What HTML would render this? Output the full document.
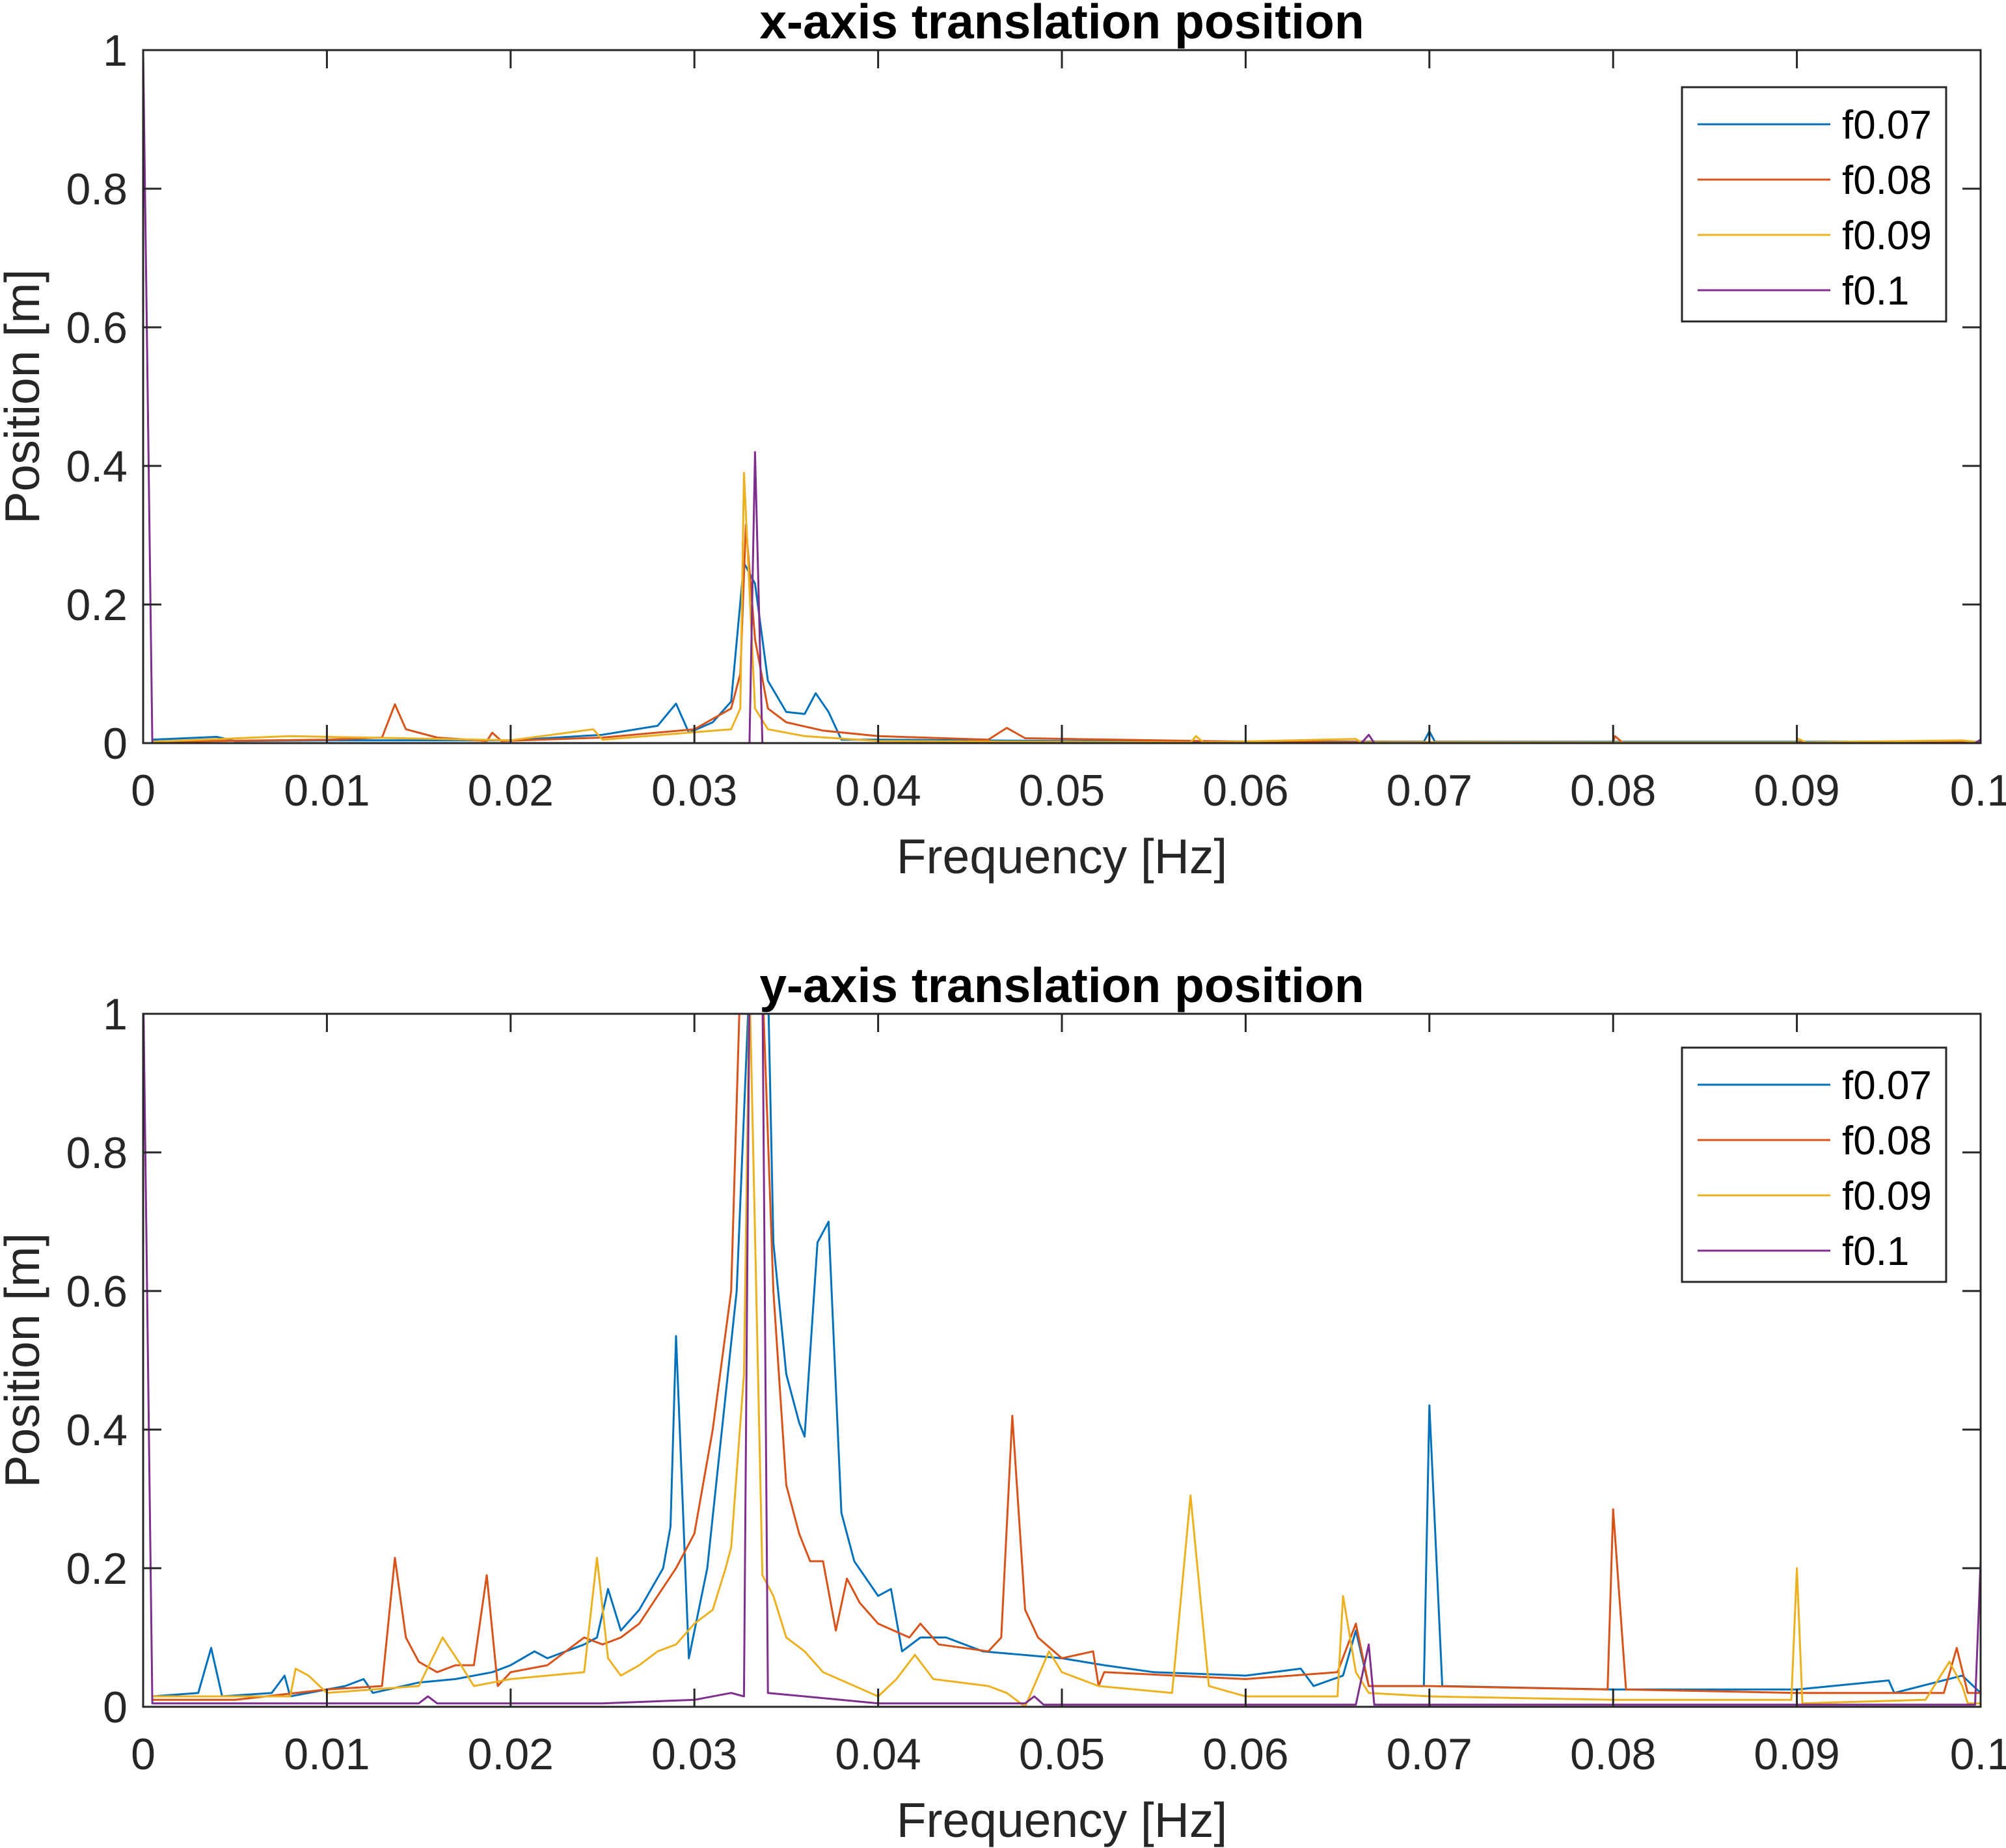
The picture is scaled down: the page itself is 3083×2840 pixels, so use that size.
<!DOCTYPE html>
<html><head><meta charset="utf-8"><style>
html,body{margin:0;padding:0;background:#fff;}
svg{display:block;font-family:"Liberation Sans",Arial,sans-serif;}
</style></head><body>
<svg id="chart" width="3083" height="2840" viewBox="0 0 3083 2840" xmlns="http://www.w3.org/2000/svg"></svg>
<script>
const xTicks=[0,0.01,0.02,0.03,0.04,0.05,0.06,0.07,0.08,0.09,0.1];
const xTickLabels=["0","0.01","0.02","0.03","0.04","0.05","0.06","0.07","0.08","0.09","0.1"];
const yTicks=[0,0.2,0.4,0.6,0.8,1];
const yTickLabels=["0","0.2","0.4","0.6","0.8","1"];
const seriesNames=["f0.07","f0.08","f0.09","f0.1"];
const seriesColors=["#0072BD","#D95319","#EDB120","#7E2F8E"];

// Top plot (x-axis)
const xf07=[0.0005,0.004,0.005,0.01,0.02,0.025,0.028,0.029,0.0297,0.031,0.032,0.0327,0.0333,0.034,0.035,0.036,0.0366,0.0373,0.038,0.04,0.05,0.0697,0.07,0.0703,0.1];
const xv07=[0.005,0.009,0.003,0.004,0.004,0.012,0.025,0.057,0.015,0.03,0.06,0.26,0.23,0.09,0.045,0.042,0.072,0.045,0.005,0.005,0.003,0.002,0.017,0.002,0.002];
const xf08=[0.0005,0.01,0.013,0.0137,0.0143,0.016,0.0187,0.019,0.0195,0.025,0.03,0.032,0.0325,0.0328,0.0333,0.034,0.035,0.037,0.04,0.046,0.047,0.048,0.06,0.08,0.0801,0.0805,0.1];
const xv08=[0.002,0.005,0.008,0.056,0.02,0.008,0.003,0.015,0.003,0.008,0.02,0.05,0.1,0.315,0.15,0.05,0.03,0.018,0.01,0.005,0.022,0.007,0.002,0.001,0.01,0.001,0.001];
const xf09=[0.0005,0.008,0.02,0.0245,0.025,0.032,0.0325,0.0327,0.0333,0.034,0.036,0.04,0.057,0.0573,0.0577,0.066,0.0663,0.09,0.0901,0.0905,0.099,0.1];
const xv09=[0.002,0.01,0.004,0.02,0.005,0.02,0.05,0.39,0.05,0.02,0.01,0.003,0.001,0.01,0.001,0.006,0.001,0.001,0.006,0.001,0.004,0.001];
const xf10=[0,0.0005,0.033,0.0333,0.0337,0.0663,0.0667,0.067,0.0997,0.1];
const xv10=[1.0,0.0,0.0,0.42,0.0,0.0,0.012,0.0,0.0,0.005];

// Bottom plot (y-axis)
const yf07=[0.0005,0.003,0.0037,0.0043,0.007,0.0077,0.008,0.011,0.012,0.0125,0.015,0.017,0.019,0.02,0.0213,0.022,0.024,0.0247,0.0253,0.026,0.027,0.0283,0.0287,0.029,0.0297,0.0307,0.0313,0.0323,0.033,0.034,0.0343,0.035,0.0357,0.036,0.0367,0.0373,0.038,0.0387,0.04,0.0407,0.0413,0.0423,0.0437,0.0457,0.05,0.0523,0.055,0.06,0.063,0.0637,0.0653,0.066,0.0667,0.0697,0.07,0.0707,0.08,0.09,0.095,0.0953,0.099,0.1];
const yv07=[0.015,0.02,0.085,0.015,0.02,0.045,0.015,0.03,0.04,0.02,0.035,0.04,0.05,0.06,0.08,0.07,0.09,0.1,0.17,0.11,0.14,0.2,0.26,0.535,0.07,0.2,0.35,0.6,1.05,1.05,0.67,0.48,0.41,0.39,0.67,0.7,0.28,0.21,0.16,0.17,0.08,0.1,0.1,0.08,0.07,0.06,0.05,0.045,0.055,0.03,0.045,0.11,0.03,0.03,0.435,0.03,0.025,0.025,0.038,0.02,0.045,0.02];
const yf08=[0.0005,0.005,0.01,0.013,0.0137,0.0143,0.015,0.016,0.017,0.018,0.0187,0.0193,0.02,0.022,0.024,0.025,0.026,0.027,0.028,0.029,0.03,0.031,0.032,0.0325,0.0337,0.0343,0.035,0.0357,0.0363,0.037,0.0377,0.0383,0.039,0.04,0.0417,0.0423,0.0433,0.046,0.0467,0.0473,0.048,0.0487,0.05,0.0517,0.052,0.0523,0.06,0.065,0.066,0.0667,0.07,0.0797,0.08,0.0807,0.09,0.098,0.0987,0.0993,0.1];
const yv08=[0.01,0.01,0.025,0.03,0.215,0.1,0.065,0.05,0.06,0.06,0.19,0.03,0.05,0.06,0.1,0.09,0.1,0.12,0.16,0.2,0.25,0.4,0.6,1.05,1.05,0.6,0.32,0.25,0.21,0.21,0.11,0.185,0.15,0.12,0.1,0.12,0.09,0.08,0.1,0.42,0.14,0.1,0.07,0.08,0.03,0.05,0.04,0.05,0.12,0.03,0.03,0.025,0.285,0.025,0.02,0.02,0.085,0.02,0.02];
const yf09=[0.0005,0.008,0.0083,0.009,0.01,0.015,0.0163,0.0173,0.018,0.02,0.024,0.0247,0.0253,0.026,0.027,0.028,0.029,0.03,0.031,0.0317,0.032,0.0327,0.033,0.0337,0.0343,0.035,0.036,0.037,0.04,0.041,0.042,0.043,0.046,0.047,0.048,0.0493,0.05,0.052,0.056,0.057,0.058,0.06,0.065,0.0653,0.066,0.0667,0.07,0.08,0.0897,0.09,0.0903,0.097,0.0983,0.099,0.0993,0.1];
const yv09=[0.015,0.015,0.055,0.045,0.02,0.03,0.1,0.06,0.03,0.04,0.05,0.215,0.07,0.045,0.06,0.08,0.09,0.12,0.14,0.2,0.23,0.48,1.05,0.19,0.16,0.1,0.08,0.05,0.015,0.04,0.075,0.04,0.03,0.02,0.0,0.08,0.05,0.03,0.02,0.305,0.03,0.015,0.015,0.16,0.05,0.02,0.015,0.01,0.01,0.2,0.005,0.01,0.065,0.03,0.005,0.005];
const yf10=[0,0.0005,0.015,0.0155,0.016,0.025,0.03,0.032,0.0327,0.033,0.0337,0.034,0.036,0.04,0.048,0.0485,0.049,0.066,0.0667,0.067,0.0997,0.1];
const yv10=[1.05,0.005,0.005,0.015,0.005,0.005,0.01,0.02,0.015,1.05,1.05,0.02,0.015,0.005,0.005,0.015,0.003,0.003,0.09,0.003,0.003,0.21];

const NS="http://www.w3.org/2000/svg";
const svg=document.getElementById('chart');
function mk(tag,attrs,parent){const e=document.createElementNS(NS,tag);for(const k in attrs)e.setAttribute(k,attrs[k]);(parent||svg).appendChild(e);return e;}

const L=220,R=3044;
const panels=[
 {top:77,bottom:1142,title:"x-axis translation position",id:"top",fs:[xf07,xf08,xf09,xf10],vs:[xv07,xv08,xv09,xv10],leg:{x:2585,y:134,w:406,h:360}},
 {top:1558,bottom:2623,title:"y-axis translation position",id:"bottom",fs:[yf07,yf08,yf09,yf10],vs:[yv07,yv08,yv09,yv10],leg:{x:2585,y:1610,w:406,h:360}}
];
panels.forEach((p,pi)=>{
  const xs=v=>L+(v-0)/(0.1-0)*(R-L);
  const ys=v=>p.bottom-(v-0)/(1-0)*(p.bottom-p.top);
  const g=mk('g',{});
  
  
  const cp=mk('clipPath',{id:'clip'+pi},g);
  mk('rect',{x:L,y:p.top,width:R-L,height:p.bottom-p.top},cp);
  p.fs.forEach((fa,si)=>{
    const va=p.vs[si];
    const pts=fa.map((f,i)=>xs(f).toFixed(1)+','+ys(va[i]).toFixed(1)).join(' ');
    const pl=mk('polyline',{points:pts,fill:'none',stroke:seriesColors[si],'stroke-width':3,'stroke-linejoin':'round','clip-path':'url(#clip'+pi+')'},g);
    
    
  });
  const box=mk('rect',{x:L,y:p.top,width:R-L,height:p.bottom-p.top,fill:'none',stroke:'#262626','stroke-width':3},g);
  
  
  xTicks.forEach((t,i)=>{
    const x=xs(t);
    mk('line',{x1:x,y1:p.bottom,x2:x,y2:p.bottom-28,stroke:'#262626','stroke-width':3},g);
    mk('line',{x1:x,y1:p.top,x2:x,y2:p.top+28,stroke:'#262626','stroke-width':3},g);
    const tx=mk('text',{x:x,y:p.bottom+96,'font-size':68,'text-anchor':'middle',fill:'#262626'},g);
    tx.textContent=xTickLabels[i];
    
    
  });
  yTicks.forEach((t,i)=>{
    const y=ys(t);
    mk('line',{x1:L,y1:y,x2:L+28,y2:y,stroke:'#262626','stroke-width':3},g);
    mk('line',{x1:R,y1:y,x2:R-28,y2:y,stroke:'#262626','stroke-width':3},g);
    const ty=mk('text',{x:L-24,y:y+24,'font-size':68,'text-anchor':'end',fill:'#262626'},g);
    ty.textContent=yTickLabels[i];
    
    
  });
  const title=mk('text',{x:(L+R)/2,y:p.top-18,'font-size':75,'font-weight':'bold','text-anchor':'middle',fill:'#000'},g);
  title.textContent=p.title;
  
  
  const xl=mk('text',{x:(L+R)/2,y:p.bottom+200,'font-size':75,'text-anchor':'middle',fill:'#262626'},g);
  xl.textContent="Frequency [Hz]";
  
  
  const cy=(p.top+p.bottom)/2;
  const yl=mk('text',{x:0,y:0,'font-size':75,'text-anchor':'middle',fill:'#262626',transform:'translate(60,'+cy+') rotate(-90)'},g);
  yl.textContent="Position [m]";
  
  
  const lg=mk('g',{},g);
  
  
  mk('rect',{x:p.leg.x,y:p.leg.y,width:p.leg.w,height:p.leg.h,fill:'#fff',stroke:'#262626','stroke-width':3},lg);
  seriesNames.forEach((n,si)=>{
    const ey=p.leg.y+57+si*85;
    const eg=mk('g',{},lg);
    
    
    mk('line',{x1:p.leg.x+24,y1:ey,x2:p.leg.x+228,y2:ey,stroke:seriesColors[si],'stroke-width':3},eg);
    const t=mk('text',{x:p.leg.x+246,y:ey+22,'font-size':62,fill:'#000'},eg);
    t.textContent=n;
  });
});
</script>
</body></html>
